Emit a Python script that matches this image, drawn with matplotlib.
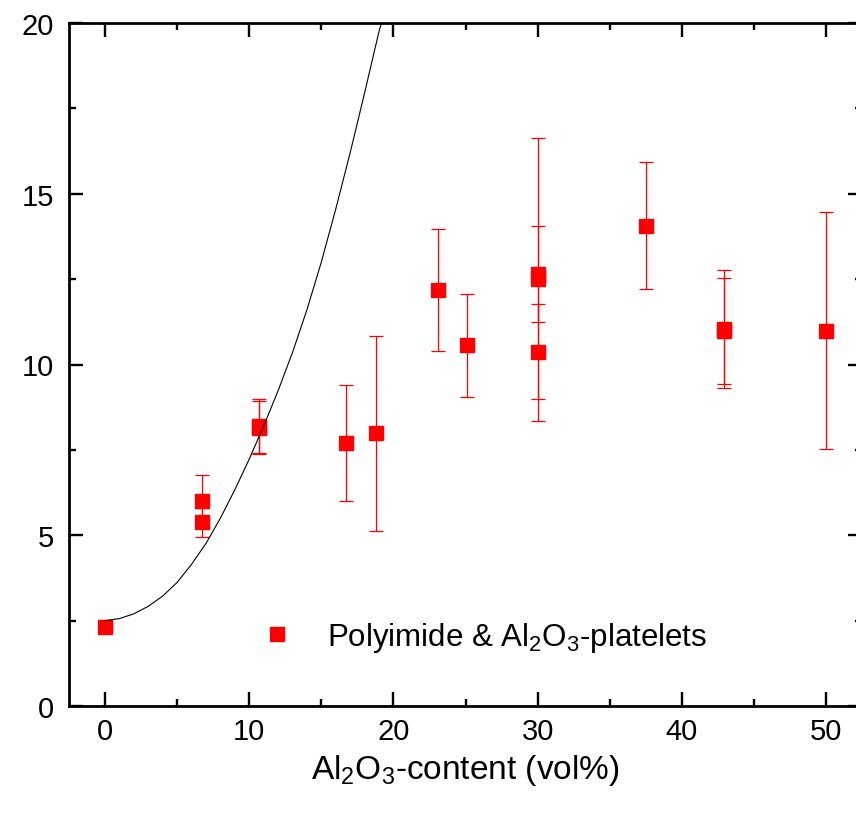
import numpy as np
import matplotlib
matplotlib.use("Agg")
import matplotlib.pyplot as plt
from matplotlib.ticker import MultipleLocator

plt.rcParams["font.family"] = ["Liberation Sans", "DejaVu Sans"]
plt.rcParams["mathtext.fontset"] = "custom"
plt.rcParams["mathtext.rm"] = "Liberation Sans"
plt.rcParams["mathtext.it"] = "Liberation Sans:italic"

# --- measured data (Al2O3 content in vol%) ---
content = [0, 6.7, 6.7, 10.7, 10.7, 16.7, 18.8, 23.1, 25.1, 30, 30, 30, 37.5, 42.9, 42.9, 50]
value = [2.3, 6.0, 5.38, 8.2, 8.15, 7.7, 7.98, 12.18, 10.56, 12.5, 12.65, 10.38, 14.07, 11.05, 10.98, 10.99]
error = [0, 0.76, 0.42, 0.8, 0.78, 1.7, 2.85, 1.78, 1.5, 4.14, 1.4, 1.38, 1.87, 1.73, 1.56, 3.47]

# --- model curve ---
curve_x = [0, 1, 2, 3, 4, 5, 6, 7, 8, 9, 10, 11, 12, 13, 14, 15, 16, 17, 18, 19, 19.3]
curve_y = [2.5, 2.56, 2.7, 2.92, 3.22, 3.62, 4.15, 4.76, 5.5, 6.33, 7.23, 8.2, 9.23, 10.35, 11.6, 13.0, 14.55, 16.2, 17.95, 19.75, 20.2]

label = r"Polyimide & $\mathrm{Al_2O_3}$-platelets"
xlabel = r"$\mathrm{Al_2O_3}$-content (vol%)"

# ----- Plotting -----
fig = plt.figure(figsize=(8.56, 8.2), dpi=100)
ax = fig.add_axes([69 / 856, 113 / 820, 793 / 856, 683 / 820])

ax.errorbar(content, value, yerr=error, fmt="none", ecolor="red",
            elinewidth=0.9, capsize=5, capthick=0.9, zorder=2)
ax.plot(content, value, "s", color="red", markersize=10.5, label=label, zorder=3)
ax.plot(curve_x, curve_y, color="black", linewidth=0.8, zorder=4)

ax.set_xlim(-2.5, 52.5)
ax.set_ylim(0, 20)
ax.xaxis.set_major_locator(MultipleLocator(10))
ax.xaxis.set_minor_locator(MultipleLocator(5))
ax.yaxis.set_major_locator(MultipleLocator(5))
ax.yaxis.set_minor_locator(MultipleLocator(2.5))

ax.tick_params(which="both", direction="in", top=True, right=True, width=1.7, labelsize=21)
ax.tick_params(which="major", length=10)
ax.tick_params(which="minor", length=5)
ax.tick_params(axis="x", pad=8)
ax.tick_params(axis="y", pad=11)
for sp in ax.spines.values():
    sp.set_linewidth(2)

ax.set_xlabel(xlabel, fontsize=24, labelpad=5)

ax.legend(loc="center left", bbox_to_anchor=(0.2346, 0.101), frameon=False,
          fontsize=22.5, handlelength=1.4, handletextpad=0.9, borderpad=0,
          borderaxespad=0, numpoints=1)

plt.savefig("out.png", dpi=100)
